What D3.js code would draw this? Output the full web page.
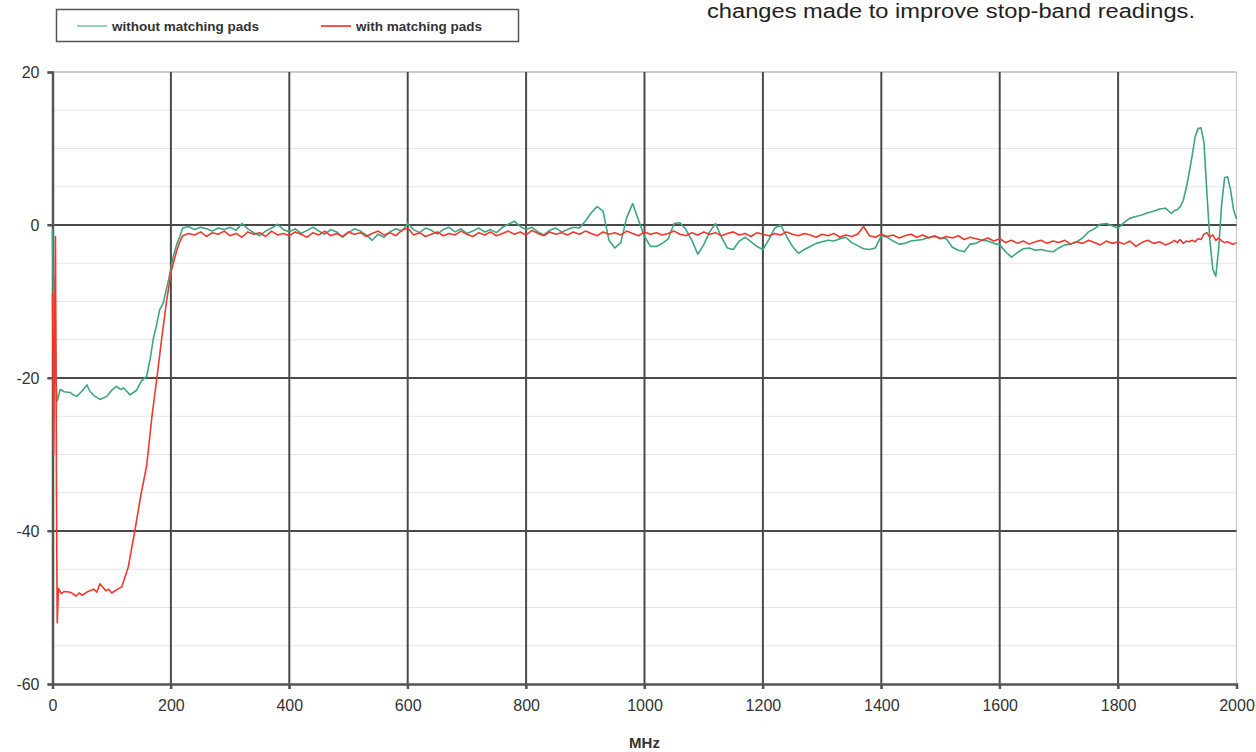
<!DOCTYPE html>
<html>
<head>
<meta charset="utf-8">
<script src="https://cdn.jsdelivr.net/npm/d3@7"></script>
<style>
  body { margin: 0; background: #fff; }
  svg { display: block; font-family: Arial, "Liberation Sans", sans-serif; }
</style>
</head>
<body>
<div id="chart"></div>
<script>
// series names and colours
const seriesNames = ["without matching pads", "with matching pads"];
const seriesColors = ["#3ea582", "#f0382c"];

// axis ticks
const xTicks = [0, 200, 400, 600, 800, 1000, 1200, 1400, 1600, 1800, 2000];
const yTicks = [20, 0, -20, -40, -60];
const yMinor = [15, 10, 5, -5, -10, -15, -25, -30, -35, -45, -50, -55];

// --- without matching pads (green) ---
// head: 0..215 MHz
const greenHeadMHz = [0, 2, 4, 6, 8, 13, 20, 30, 35, 41, 50, 58, 63, 70, 80, 92, 100, 108, 115, 120, 131, 142, 150, 159, 165, 170, 176, 181, 187, 196, 204, 210, 215];
const greenHeadDb  = [-0.5, -14, -7, -20.5, -23, -21.5, -21.8, -21.9, -22.2, -22.4, -21.7, -20.9, -21.7, -22.3, -22.8, -22.4, -21.6, -21.1, -21.5, -21.3, -22.2, -21.6, -20.4, -19.8, -17.5, -15, -13, -11.1, -10.2, -7.2, -4.1, -2.5, -1.5];

// body: 220..1890 MHz every 10 MHz
const greenBodyDb = [
  -0.4, -0.2, -0.6, -0.3, -0.5, -0.8, -0.4, -0.6, -0.3, -0.7,   // 220-310
   0.2, -0.5, -1.0, -1.4, -0.8, -0.4,  0.1, -0.6, -0.9, -0.5,   // 320-410
  -1.1, -0.7, -0.3, -0.8, -1.2, -0.6, -0.9, -1.6, -1.0, -0.5,   // 420-510
  -0.8, -1.3, -2.0, -1.2, -1.6, -0.9, -0.5, -0.8,  0.2, -0.6,   // 520-610
  -1.0, -0.4, -0.7, -1.2, -0.6, -0.3, -0.9, -0.5, -1.1, -0.8,   // 620-710
  -0.4, -0.9, -0.6, -1.0, -0.3,  0.1,  0.5, -0.2, -0.6, -0.3,   // 720-810
  -0.9, -1.3, -0.7, -0.4, -0.9, -0.6, -0.3, -0.4,  0.5,  1.6,   // 820-910
   2.4,  1.8, -2.0, -3.0, -2.3,  1.0,  2.8,  0.6, -1.5, -2.8,   // 920-1010
  -2.8, -2.4, -1.8,  0.2,  0.3, -0.6, -2.0, -3.8, -2.6, -0.9,   // 1020-1110
   0.2, -1.6, -3.0, -3.2, -2.1, -1.6, -2.2, -2.8, -3.2, -1.9,   // 1120-1210
  -0.4,  0.0, -1.5, -2.8, -3.7, -3.2, -2.8, -2.4, -2.2, -2.0,   // 1220-1310
  -2.1, -1.8, -1.6, -2.3, -2.7, -3.1, -3.2, -3.0, -1.4, -1.6,   // 1320-1410
  -2.1, -2.5, -2.4, -2.1, -2.0, -1.9, -1.6, -1.5, -1.7, -1.8,   // 1420-1510
  -2.9, -3.3, -3.5, -2.5, -2.4, -2.0, -2.1, -2.4, -2.6, -3.5,   // 1520-1610
  -4.2, -3.6, -3.1, -3.0, -3.3, -3.2, -3.4, -3.5, -3.0, -2.6,   // 1620-1710
  -2.5, -2.2, -1.7, -0.9, -0.5,  0.1,  0.2, -0.1, -0.4,  0.3,   // 1720-1810
   0.9,  1.1,  1.3,  1.6,  1.8,  2.1,  2.2,  1.5                // 1820-1890
];

// tail: 1895..2000 MHz every 5 MHz
const tailMHz = [1895, 1900, 1905, 1910, 1915, 1920, 1925, 1930, 1935, 1940, 1945, 1950, 1955, 1960, 1965, 1970, 1975, 1980, 1985, 1990, 1995, 2000];
const greenTailDb = [1.9, 2.0, 2.4, 3.2, 4.8, 6.8, 9.0, 11.5, 12.6, 12.7, 10.8, 4.2, -2.0, -5.8, -6.7, -3.0, 2.8, 6.2, 6.3, 4.6, 2.0, 0.8];

// --- with matching pads (red) ---
const redHeadMHz = [0, 2, 5, 7, 8, 10, 15, 20, 30, 40, 45, 50, 60, 70, 75, 80, 90, 95, 100, 110, 117, 128, 139, 150, 159, 168, 176, 185, 193, 201, 210, 215];
const redHeadDb  = [-9, -30, -1.5, -39.5, -52, -47.5, -48.2, -47.9, -48.0, -48.5, -48.1, -48.4, -47.9, -47.6, -48.0, -46.9, -47.8, -47.6, -48.1, -47.6, -47.3, -44.7, -40, -35, -31.5, -25, -20.2, -14.5, -9.8, -5.9, -3.3, -2.2];

const redBodyDb = [
  -1.4, -1.1, -1.3, -0.9, -1.5, -1.0, -1.2, -0.8, -1.4, -1.1,   // 220-310
  -1.6, -0.9, -1.2, -1.0, -1.5, -0.8, -1.3, -1.1, -1.4, -0.9,   // 320-410
  -1.2, -1.6, -1.0, -1.3, -0.8, -1.4, -1.1, -1.5, -0.9, -1.2,   // 420-510
  -1.0, -1.5, -1.1, -0.8, -1.3, -1.0, -1.4, -0.7, -0.4, -1.3,   // 520-610
  -1.0, -1.5, -1.2, -0.9, -1.4, -1.1, -1.3, -0.8, -1.2, -1.5,   // 620-710
  -1.0, -1.3, -0.9, -1.4, -1.1, -0.8, -1.2, -0.9, -1.3, -0.7,   // 720-810
  -1.1, -1.4, -0.9, -1.2, -1.0, -1.3, -0.9, -1.2, -0.8, -1.1,   // 820-910
  -1.4, -0.9, -1.2, -1.0, -1.3, -0.8, -1.1, -1.4, -0.9, -1.2,   // 920-1010
  -1.0, -1.3, -1.1, -0.8, -1.2, -1.4, -1.0, -1.3, -0.9, -1.2,   // 1020-1110
  -1.0, -1.4, -1.1, -0.9, -1.3, -1.1, -1.5, -1.0, -1.2, -1.4,   // 1120-1210
  -1.1, -1.3, -0.9, -1.2, -1.4, -1.1, -1.3, -1.6, -1.2, -1.4,   // 1220-1310
  -1.1, -1.6, -1.3, -1.5, -1.2, -0.2, -1.4, -1.6, -1.2, -1.5,   // 1320-1410
  -1.3, -1.7, -1.4, -1.2, -1.6, -1.3, -1.7, -1.4, -1.8, -1.5,   // 1420-1510
  -1.7, -1.4, -1.9, -1.6, -1.8, -2.0, -1.7, -2.1, -1.8, -2.3,   // 1520-1610
  -2.0, -2.4, -2.1, -2.5, -2.2, -2.0, -2.4, -2.1, -2.3, -2.0,   // 1620-1710
  -2.5, -2.2, -2.4, -2.0, -2.3, -2.6, -2.1, -2.4, -2.2, -2.5,   // 1720-1810
  -2.1, -2.8, -2.3, -2.0, -2.4, -2.2, -2.6, -2.3                // 1820-1890
];
const redTailDb = [-2.0, -2.3, -1.9, -2.4, -2.1, -2.2, -2.0, -2.2, -1.8, -1.9, -1.2, -1.0, -1.6, -1.3, -2.0, -1.7, -2.1, -2.3, -2.2, -2.4, -2.5, -2.3];

const headline = "changes made to improve stop-band readings.";
const xTitle = "MHz";

// ---------------------------------------------------------------
const width = 1256, height = 752;
const margin = {left: 52.5, right: 19.5, top: 72, bottom: 68};

const svg = d3.select("#chart").append("svg")
  .attr("width", width)
  .attr("height", height);

const x = d3.scaleLinear().domain([0, 2000]).range([margin.left, width - margin.right]);
const y = d3.scaleLinear().domain([-60, 20]).range([height - margin.bottom, margin.top]);

const bodyMHz = d3.range(220, 1891, 10);

function buildSeries(headMHz, headDb, bodyDb, tailDb) {
  const pts = headMHz.map((f, i) => ({f: f, v: headDb[i]}));
  bodyMHz.forEach((f, i) => pts.push({f: f, v: bodyDb[i]}));
  tailMHz.forEach((f, i) => pts.push({f: f, v: tailDb[i]}));
  return pts;
}

const series = [
  buildSeries(greenHeadMHz, greenHeadDb, greenBodyDb, greenTailDb),
  buildSeries(redHeadMHz, redHeadDb, redBodyDb, redTailDb)
];

// minor horizontal gridlines
svg.append("g").selectAll("line")
  .data(yMinor)
  .join("line")
    .attr("x1", x(0)).attr("x2", x(2000))
    .attr("y1", d => y(d)).attr("y2", d => y(d))
    .attr("stroke", "#e4e4ea")
    .attr("stroke-width", 1);

// plot border (top / right), light
svg.append("line")
  .attr("x1", x(0)).attr("x2", x(2000))
  .attr("y1", y(20)).attr("y2", y(20))
  .attr("stroke", "#9a9a9a").attr("stroke-width", 1.2);
svg.append("line")
  .attr("x1", x(2000)).attr("x2", x(2000))
  .attr("y1", y(20)).attr("y2", y(-60))
  .attr("stroke", "#c8c8c8").attr("stroke-width", 1.2);

// major gridlines
svg.append("g").selectAll("line")
  .data(xTicks.filter(d => d > 0 && d < 2000))
  .join("line")
    .attr("x1", d => x(d)).attr("x2", d => x(d))
    .attr("y1", y(20)).attr("y2", y(-60) + 5)
    .attr("stroke", "#4a4a4a")
    .attr("stroke-width", 2);

svg.append("g").selectAll("line")
  .data(yTicks.filter(d => d < 20 && d > -60))
  .join("line")
    .attr("x1", x(0) - 5).attr("x2", x(2000))
    .attr("y1", d => y(d)).attr("y2", d => y(d))
    .attr("stroke", "#4a4a4a")
    .attr("stroke-width", 2);

// axes (plain hyphen minus, no thousands separator)
const plain = d => String(d);
const xAxis = d3.axisBottom(x).tickValues(xTicks).tickFormat(plain).tickSize(5).tickPadding(11);
const yAxis = d3.axisLeft(y).tickValues(yTicks).tickFormat(plain).tickSize(5).tickPadding(8);

const gx = svg.append("g")
  .attr("transform", `translate(0,${y(-60)})`)
  .call(xAxis);
const gy = svg.append("g")
  .attr("transform", `translate(${x(0)},0)`)
  .call(yAxis);

[gx, gy].forEach(g => {
  g.select(".domain").attr("stroke", "#555").attr("stroke-width", 2.5);
  g.selectAll(".tick line").attr("stroke", "#555").attr("stroke-width", 2);
  g.selectAll(".tick text")
    .attr("fill", "#333")
    .style("font-size", "16px")
    .style("font-family", "Arial, 'Liberation Sans', sans-serif");
});

// lines
const line = d3.line()
  .x(d => x(d.f))
  .y(d => y(d.v));

svg.append("g").selectAll("path")
  .data(series)
  .join("path")
    .attr("d", line)
    .attr("fill", "none")
    .attr("stroke", (d, i) => seriesColors[i])
    .attr("stroke-width", 1.6)
    .attr("stroke-linejoin", "round");

// x title
svg.append("text")
  .attr("x", x(1000))
  .attr("y", 748)
  .attr("text-anchor", "middle")
  .attr("fill", "#333")
  .style("font-size", "15px")
  .style("font-weight", "bold")
  .text(xTitle);

// legend
const legend = svg.append("g").attr("class", "legend");
legend.append("rect")
  .attr("x", 56.5).attr("y", 9.5)
  .attr("width", 462).attr("height", 32)
  .attr("fill", "#fff")
  .attr("stroke", "#555")
  .attr("stroke-width", 1.5);

const legendX = [77, 321];
const items = legend.selectAll(".item")
  .data(seriesNames)
  .join("g")
    .attr("class", "item")
    .attr("transform", (d, i) => `translate(${legendX[i]},26)`);

items.append("line")
  .attr("x1", 0).attr("x2", 30)
  .attr("stroke", (d, i) => seriesColors[i])
  .attr("stroke-opacity", (d, i) => i === 0 ? 0.55 : 0.85)
  .attr("stroke-width", 2);

items.append("text")
  .attr("x", 35)
  .attr("dy", "0.35em")
  .attr("fill", "#333")
  .style("font-size", "13.5px")
  .style("font-weight", "bold")
  .text(d => d);

// headline text (cut off at top of the page)
svg.append("text")
  .attr("x", 707)
  .attr("y", 18)
  .attr("fill", "#222")
  .attr("textLength", 488)
  .attr("lengthAdjust", "spacingAndGlyphs")
  .style("font-size", "20px")
  .style("font-family", "'Liberation Sans', Arial, sans-serif")
  .text(headline);
</script>
</body>
</html>
